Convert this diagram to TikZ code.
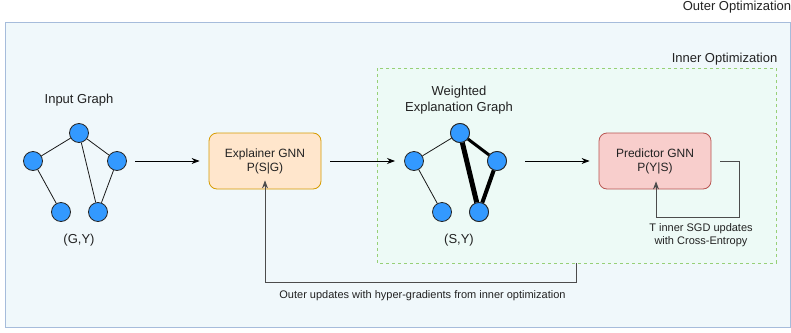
\documentclass[tikz,border=0pt]{standalone}
\usepackage{fontspec}
\setmainfont{Liberation Sans}
\usetikzlibrary{arrows.meta}
\definecolor{outerfill}{HTML}{F0F8FB}
\definecolor{outerdraw}{HTML}{A6BCDB}
\definecolor{innerfill}{HTML}{EDFAF6}
\definecolor{innerdraw}{HTML}{97D077}
\definecolor{nodefill}{HTML}{3399FF}
\definecolor{explfill}{HTML}{FFE6CC}
\definecolor{expldraw}{HTML}{D79B00}
\definecolor{predfill}{HTML}{F8CECC}
\definecolor{preddraw}{HTML}{B85450}
\definecolor{txt}{HTML}{222222}
\tikzset{
  gv/.style={circle,fill=nodefill,draw=black!85,line width=0.8pt,minimum size=19pt,inner sep=0pt},
  ge/.style={draw=black!90,line width=0.8pt},
  box/.style={rounded corners=8pt,line width=0.8pt,minimum width=112pt,minimum height=56pt,align=center,font=\fontsize{12}{14}\selectfont,text=txt},
  lbl/.style={font=\fontsize{13}{15}\selectfont,text=txt,align=center},
  small/.style={font=\fontsize{11}{13.5}\selectfont,text=txt,align=center},
  arr/.style={-{Stealth[length=8pt,width=6pt]},line width=0.8pt,draw=black},
  loop/.style={-{Stealth[length=8pt,width=6pt]},line width=0.8pt,draw=black!70},
}
\begin{document}
\begin{tikzpicture}[x=1pt,y=-1pt]
\useasboundingbox (0,0) rectangle (791,332);
% outer box
\draw[fill=outerfill,draw=outerdraw,line width=1pt] (5,22) rectangle (790.5,327.5);
\node[lbl,anchor=center] (outert) at (737,7) {Outer Optimization};
% inner box
\draw[fill=innerfill,draw=innerdraw,line width=0.8pt,dash pattern=on 3pt off 3pt] (377,68) rectangle (776,263);
\node[lbl] (innert) at (724.5,59) {Inner Optimization};
\coordinate (innerbot) at (576,263);

% input graph
\node[lbl] (inlbl) at (79,100) {Input Graph};
\node[gv] (a1) at (79,133) {};
\node[gv] (a2) at (33,161) {};
\node[gv] (a3) at (117,161) {};
\node[gv] (a4) at (61,212) {};
\node[gv] (a5) at (98,212) {};
\draw[ge] (a1)--(a2) (a1)--(a3) (a1)--(a5) (a2)--(a4) (a3)--(a5);
\node[lbl] (gy) at (79,240) {(G,Y)};

% explainer
\node[box,fill=explfill,draw=expldraw] (expl) at (265,161) {Explainer GNN\\P(S|G)};

% weighted graph
\node[lbl,font=\fontsize{13}{15.5}\selectfont] (wlbl) at (459,100) {Weighted\\Explanation Graph};
\node[gv] (b1) at (460,133) {};
\node[gv] (b2) at (414,161) {};
\node[gv] (b3) at (497,161) {};
\node[gv] (b4) at (442,212) {};
\node[gv] (b5) at (479,212) {};
\draw[ge] (b1)--(b2) (b2)--(b4);
\draw[black,line width=3pt] (b1)--(b3);
\draw[black,line width=4pt] (b3)--(b5);
\draw[black,line width=5pt] (b1)--(b5);
\node[gv] at (b1) {};
\node[gv] at (b3) {};
\node[gv] at (b5) {};
\node[lbl] (sy) at (459,240) {(S,Y)};

% predictor
\node[box,fill=predfill,draw=preddraw] (pred) at (655,161) {Predictor GNN\\P(Y|S)};

% arrows
\coordinate (g1e) at (135,161);
\draw[arr] (g1e) -- ([xshift=-9pt]expl.west);
\draw[arr] ([xshift=9pt]expl.east) -- (395,161);
\coordinate (g2e) at (525,161);
\draw[arr] (g2e) -- ([xshift=-9pt]pred.west);

% self loop
\coordinate (ls) at (720,161);
\draw[loop] (ls) -- (739,161) -- (739,217) -- (656,217) -- ([yshift=8pt]pred.south -| 656,0);
\node[small] (ltxt) at (701,235) {T inner SGD updates\\with Cross-Entropy};

% outer feedback
\draw[loop] (innerbot) -- (576,282) -- (265,282) -- ([yshift=9pt]expl.south);
\node[small] (otxt) at (422.5,296) {Outer updates with hyper-gradients from inner optimization};
\end{tikzpicture}
\end{document}
